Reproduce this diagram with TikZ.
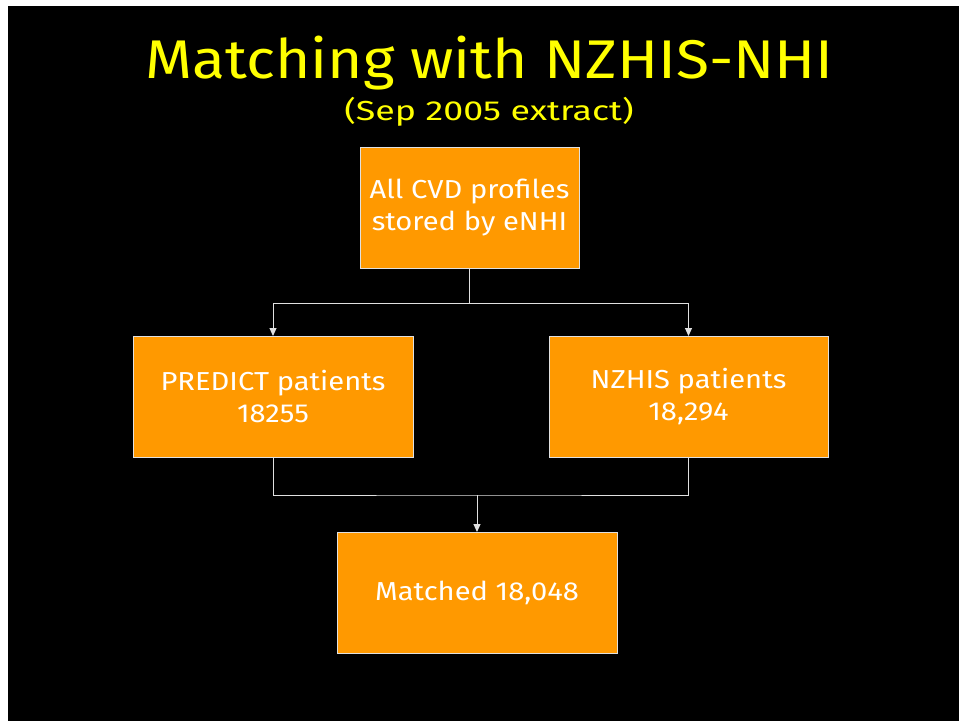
\documentclass[tikz,border=0pt]{standalone}
\usepackage{fontspec}
\setmainfont{Fira Sans}
\newfontfamily\titlefont[FakeStretch=1.11]{Fira Sans}
\newfontfamily\subfont[FakeStretch=1.3]{Fira Sans}
\newfontfamily\boxfont[FakeStretch=1.12]{Fira Sans}
\usetikzlibrary{arrows.meta}
\definecolor{boxorange}{HTML}{FF9900}
\definecolor{linegray}{HTML}{E0E0E0}
\definecolor{titleyellow}{HTML}{FFFF00}
\tikzset{
  flowbox/.style={draw=linegray, line width=1pt, fill=boxorange, text=white,
    minimum height=121pt, align=center, inner sep=0pt,
    font=\boxfont\fontsize{26}{32}\selectfont},
  conn/.style={draw=linegray, line width=1pt},
  arr/.style={conn, -{Triangle[length=8pt,width=7pt]}}
}
\begin{document}
\begin{tikzpicture}[x=1pt,y=-1pt]
\useasboundingbox (0,0) rectangle (959,721);
\fill[white] (0,0) rectangle (959,721);
\fill[black] (8,6) rectangle (959,721);
\node[anchor=base, text=titleyellow, font=\titlefont\fontsize{54.5}{60}\selectfont, inner sep=0pt] (title) at (489.5,78) {Matching with NZHIS-NHI};
\node[anchor=base, text=titleyellow, font=\subfont\fontsize{27.5}{32}\selectfont, inner sep=0pt] (subtitle) at (489,120) {(Sep 2005 extract)};
\node[flowbox, minimum width=219pt] (top) at (469.5,207.5) {All CVD profiles\\stored by eNHI};
\node[flowbox, minimum width=280pt] (left) at (273,397) {PREDICT patients\\18255};
\node[flowbox, minimum width=279pt] (right) at (688.5,397) {NZHIS patients\\18,294};
\node[flowbox, minimum width=280pt] (bottom) at (477,593) {Matched 18,048};
\coordinate (j1) at (469.5,303);
\coordinate (j2) at (477,495);
\draw[conn] (top) -- (j1);
\draw[arr] (j1) -| (left);
\draw[arr] (j1) -| (right);
\draw[conn] (left.south) |- (j2) -| (right.south);
\draw[arr] (j2) -- (bottom);
\end{tikzpicture}
\end{document}
